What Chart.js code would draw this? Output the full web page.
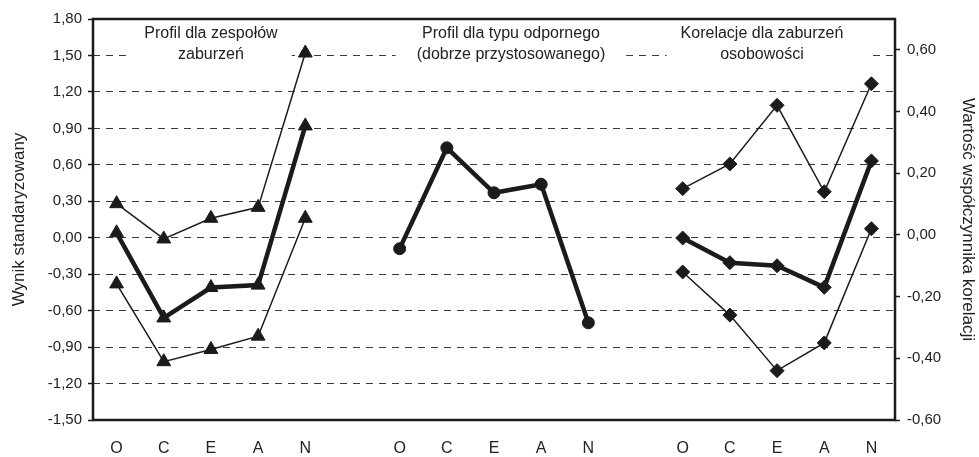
<!DOCTYPE html>
<html>
<head>
<meta charset="utf-8">
<script src="https://cdn.jsdelivr.net/npm/chart.js@4.4.1/dist/chart.umd.min.js"></script>
<style>
  html, body { margin: 0; padding: 0; background: #ffffff; }
  #wrap { width: 979px; height: 457px; position: relative; }
</style>
</head>
<body>
<div id="wrap"><canvas id="c"></canvas></div>
<script>
// ---- data ----
const categories = ['O','C','E','A','N','','O','C','E','A','N','','O','C','E','A','N'];
const leftTicks = [-1.5, -1.2, -0.9, -0.6, -0.3, 0, 0.3, 0.6, 0.9, 1.2, 1.5, 1.8];
const rightTicks = [-0.6, -0.4, -0.2, 0, 0.2, 0.4, 0.6];

const disorderUpper = [0.28, -0.01, 0.16, 0.25, 1.52];
const disorderMean  = [0.04, -0.66, -0.41, -0.39, 0.92];
const disorderLower = [-0.38, -1.02, -0.92, -0.81, 0.16];

const resilientProfile = [-0.09, 0.74, 0.37, 0.44, -0.70];

const corrUpper = [0.15, 0.23, 0.42, 0.14, 0.49];
const corrMean  = [-0.01, -0.09, -0.10, -0.17, 0.24];
const corrLower = [-0.12, -0.26, -0.44, -0.35, 0.02];

const groupTitles = [
  ['Profil dla zespołów', 'zaburzeń'],
  ['Profil dla typu odpornego', '(dobrze przystosowanego)'],
  ['Korelacje dla zaburzeń', 'osobowości']
];
const leftTitle = 'Wynik standaryzowany';
const rightTitle = 'Wartość współczynnika korelacji';

// ---- helpers ----
function inGroup(g, values) {
  const arr = categories.map(() => null);
  values.forEach((v, i) => { arr[g * 6 + i] = v; });
  return arr;
}
const fmt = v => (Math.round(v * 100) / 100).toFixed(2).replace('.', ',');
const INK = '#1b1b1b';
const FONT = '"Liberation Sans", Arial, sans-serif';

function ds(data, axis, style, radius, width) {
  return {
    data, yAxisID: axis, borderColor: INK, backgroundColor: INK,
    borderWidth: width, pointStyle: style, pointRadius: radius,
    pointHoverRadius: radius, pointBackgroundColor: INK, pointBorderColor: INK,
    pointBorderWidth: 1, spanGaps: false, tension: 0
  };
}

const titlePlugin = {
  id: 'groupTitles',
  beforeDatasetsDraw(chart) {
    const ctx = chart.ctx, x = chart.scales.x, area = chart.chartArea;
    const anchors = [2.0, 8.36, 13.68];
    const padsL = [14, 21, 14];
    const padsR = [14, 21, 26];
    const px = f => {
      const i = Math.floor(f), p0 = x.getPixelForValue(i), p1 = x.getPixelForValue(i + 1);
      return p0 + (p1 - p0) * (f - i);
    };
    ctx.save();
    ctx.font = '16px ' + FONT;
    ctx.textAlign = 'center';
    ctx.textBaseline = 'middle';
    groupTitles.forEach((lines, k) => {
      const cx = px(anchors[k]);
      const w = Math.max(...lines.map(l => ctx.measureText(l).width));
      ctx.fillStyle = '#ffffff';
      ctx.fillRect(cx - w / 2 - padsL[k], area.top + 3, w + padsL[k] + padsR[k], 46);
      ctx.fillStyle = '#222222';
      lines.forEach((l, j) => ctx.fillText(l, cx, area.top + 15 + j * 21));
    });
    ctx.restore();
  },
  afterDatasetsDraw(chart) {
    const ctx = chart.ctx, a = chart.chartArea;
    ctx.save();
    ctx.strokeStyle = INK;
    ctx.lineWidth = 2.5;
    ctx.setLineDash([]);
    ctx.strokeRect(a.left, a.top, a.right - a.left, a.bottom - a.top);
    ctx.restore();
  }
};

new Chart(document.getElementById('c'), {
  type: 'line',
  data: {
    labels: categories,
    datasets: [
      ds(inGroup(0, disorderUpper), 'y', 'triangle', 8, 1.5),
      ds(inGroup(0, disorderMean), 'y', 'triangle', 8, 4.5),
      ds(inGroup(0, disorderLower), 'y', 'triangle', 8, 1.5),
      ds(inGroup(1, resilientProfile), 'y', 'circle', 6, 4.5),
      ds(inGroup(2, corrUpper), 'y2', 'rectRot', 7, 1.5),
      ds(inGroup(2, corrMean), 'y2', 'rectRot', 7, 4.5),
      ds(inGroup(2, corrLower), 'y2', 'rectRot', 7, 1.5)
    ]
  },
  options: {
    responsive: true,
    maintainAspectRatio: false,
    animation: false,
    events: [],
    layout: { padding: { top: 19, left: 0, right: 0, bottom: 0 } },
    plugins: { legend: { display: false }, tooltip: { enabled: false } },
    scales: {
      x: {
        type: 'category',
        offset: true,
        grid: { display: false, drawTicks: false },
        border: { display: false },
        ticks: { color: '#222', font: { family: FONT, size: 16 }, padding: 19, autoSkip: false, maxRotation: 0 },
        afterFit: s => { s.height = 37; }
      },
      y: {
        position: 'left',
        min: -1.5, max: 1.8,
        afterBuildTicks: s => { s.ticks = leftTicks.map(v => ({ value: v })); },
        ticks: { color: '#222', font: { family: FONT, size: 15 }, padding: 6, callback: v => fmt(v) },
        grid: { color: '#3a3a3a', lineWidth: 1, tickLength: 5, tickColor: INK, tickWidth: 1.5, tickBorderDash: [] },
        border: { display: false, dash: [7, 6] },
        title: { display: true, text: leftTitle, color: '#222', font: { family: FONT, size: 17 }, padding: { top: 9, bottom: 0 } },
        afterFit: s => { s.width = 93; }
      },
      y2: {
        position: 'right',
        min: -0.6, max: 0.7,
        afterBuildTicks: s => { s.ticks = rightTicks.map(v => ({ value: v })); },
        ticks: { color: '#222', font: { family: FONT, size: 15 }, padding: 7, callback: v => fmt(v) },
        grid: { drawOnChartArea: false, tickLength: 5, tickColor: INK, tickWidth: 1.5 },
        border: { display: false },
        title: { display: true, text: rightTitle, color: '#222', font: { family: FONT, size: 17 }, padding: { top: 1, bottom: 0 } },
        afterFit: s => { s.width = 84; }
      }
    }
  },
  plugins: [titlePlugin]
});
</script>
</body>
</html>
